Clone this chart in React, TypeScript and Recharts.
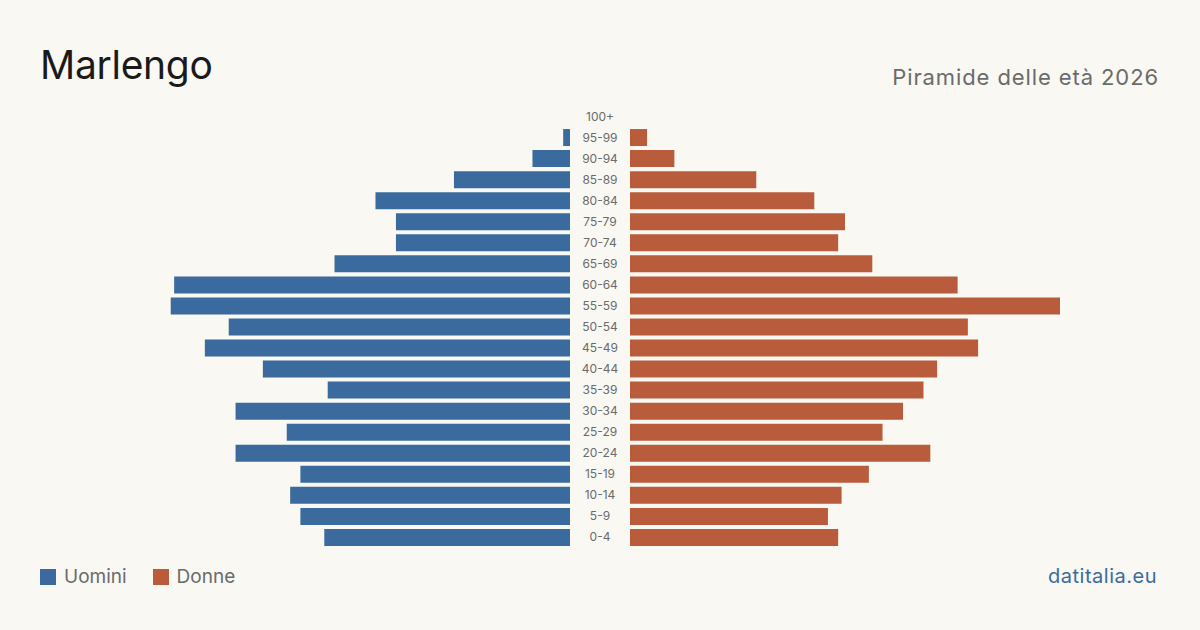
import React from 'react';
import { BarChart, Bar, XAxis, YAxis } from 'recharts';

const AGE_GROUPS = [
  '100+', '95-99', '90-94', '85-89', '80-84', '75-79', '70-74', '65-69', '60-64', '55-59',
  '50-54', '45-49', '40-44', '35-39', '30-34', '25-29', '20-24', '15-19', '10-14', '5-9', '0-4',
];
const MEN = [0, 2, 11, 34, 57, 51, 51, 69, 116, 117, 100, 107, 90, 71, 98, 83, 98, 79, 82, 79, 72];
const WOMEN = [0, 5, 13, 37, 54, 63, 61, 71, 96, 126, 99, 102, 90, 86, 80, 74, 88, 70, 62, 58, 61];

const MAX = 126;
const BLUE = '#3b6b9e';
const ORANGE = '#b95c3c';
const BG = '#f9f8f3';
const FONT = 'Inter, "Noto Sans", sans-serif';

const chartData = AGE_GROUPS.map((g, i) => ({ group: g, men: MEN[i], women: WOMEN[i] }));

function AgeTick(props: any) {
  const { y, payload } = props;
  return (
    <text x={600} y={y} dy={4} textAnchor="middle" fontSize={12} fill="#6b6b6b" fontFamily={FONT}>
      {payload.value}
    </text>
  );
}

export default function App() {
  return (
    <div style={{ position: 'fixed', left: 0, top: 0, width: 1200, height: 630, background: BG, fontFamily: FONT, overflow: 'hidden' }}>
      <div style={{ position: 'absolute', left: 40, top: 40, fontSize: 39, color: '#1a1a1a', lineHeight: '50px', letterSpacing: -0.3 }}>
        Marlengo
      </div>
      <div style={{ position: 'absolute', right: 41, top: 62, fontSize: 22, color: '#6b6b6b', lineHeight: '30px', letterSpacing: 0.9 }}>
        Piramide delle età 2026
      </div>

      <div style={{ position: 'absolute', left: 0, top: 106 }}>
        <BarChart width={630} height={442} layout="vertical" data={chartData}
          margin={{ top: 0, right: 0, bottom: 0, left: 140 }}>
          <XAxis type="number" domain={[0, MAX]} reversed hide />
          <YAxis type="category" dataKey="group" orientation="right" width={60}
            axisLine={false} tickLine={false} tick={<AgeTick />} interval={0} />
          <Bar dataKey="men" fill={BLUE} barSize={17} isAnimationActive={false} />
        </BarChart>
      </div>

      <div style={{ position: 'absolute', left: 630, top: 106 }}>
        <BarChart width={430} height={442} layout="vertical" data={chartData}
          margin={{ top: 0, right: 0, bottom: 0, left: 0 }}>
          <XAxis type="number" domain={[0, MAX]} hide />
          <YAxis type="category" dataKey="group" hide />
          <Bar dataKey="women" fill={ORANGE} barSize={17} isAnimationActive={false} />
        </BarChart>
      </div>

      <div style={{ position: 'absolute', left: 40, top: 566, display: 'flex', alignItems: 'center', fontSize: 19, color: '#6b6b6b', lineHeight: '22px' }}>
        <span style={{ width: 16, height: 16, background: BLUE, display: 'inline-block', marginRight: 8 }} />
        <span style={{ marginRight: 26 }}>Uomini</span>
        <span style={{ width: 16, height: 16, background: ORANGE, display: 'inline-block', marginRight: 8 }} />
        <span>Donne</span>
      </div>
      <div style={{ position: 'absolute', right: 43, top: 564, fontSize: 20, color: BLUE, lineHeight: '24px', letterSpacing: 0.5 }}>
        datitalia.eu
      </div>
    </div>
  );
}
